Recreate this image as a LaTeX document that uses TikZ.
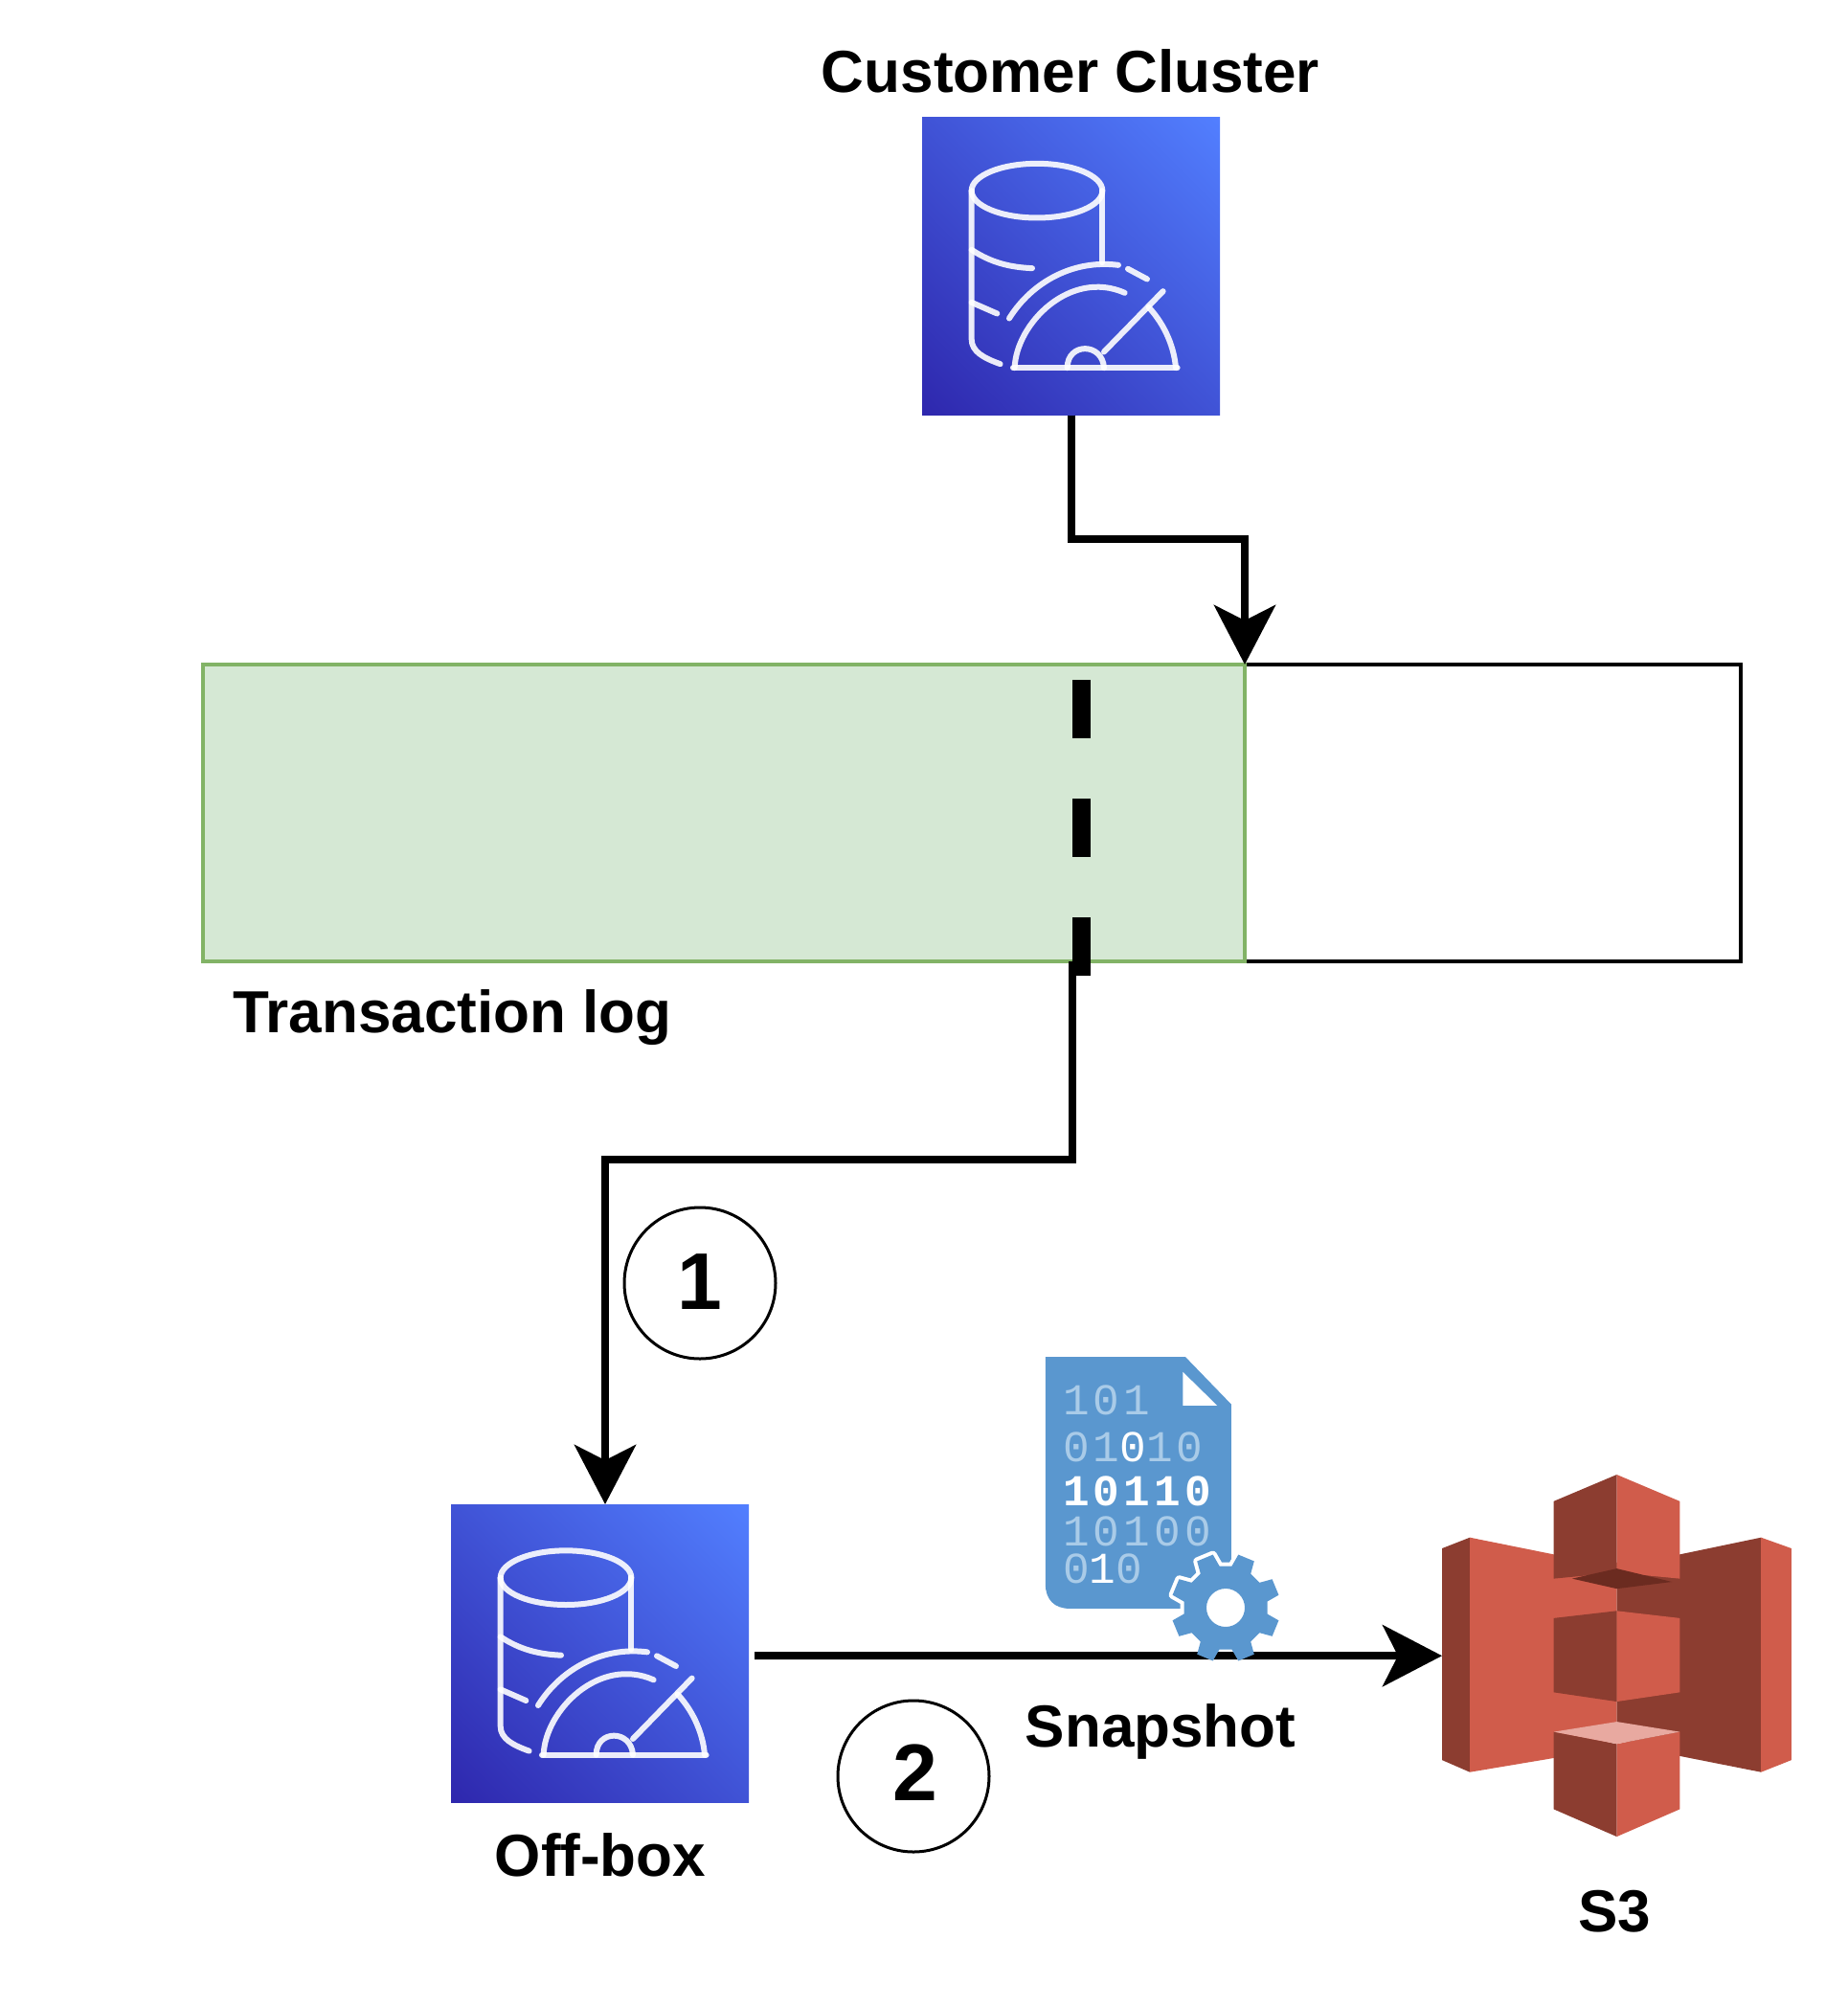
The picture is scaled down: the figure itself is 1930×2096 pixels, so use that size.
\documentclass[tikz,border=0pt]{standalone}
\usepackage{fontspec}
\setmainfont{Liberation Sans}
\newfontfamily\digitfont[LetterSpace=9]{Liberation Mono}
\usetikzlibrary{arrows.meta,shadings}
\definecolor{awsdark}{HTML}{2E27AD}
\definecolor{awslight}{HTML}{527FFF}
\definecolor{awsmid}{HTML}{4053D6}
\definecolor{s3light}{HTML}{D05C4B}
\definecolor{s3dark}{HTML}{8C3D30}
\definecolor{s3under}{HTML}{6B2B20}
\definecolor{s3top}{HTML}{E8A9A0}
\definecolor{docblue}{HTML}{5A97CF}
\definecolor{digitlight}{HTML}{A9CBE8}
\definecolor{logfill}{HTML}{D5E8D4}
\definecolor{logline}{HTML}{82B366}
\tikzset{
  x=1pt,y=-1pt,
  awssquare/.style={minimum size=311pt,inner sep=0pt,outer sep=0pt,shade,
    lower left=awsdark,upper right=awslight,upper left=awsmid,lower right=awsmid},
  iconline/.style={draw=white,opacity=.9,line width=6pt,line cap=round,line join=round},
  lbl/.style={font=\fontsize{62}{72}\selectfont\bfseries,text=black,inner sep=0pt},
  num/.style={circle,draw=black,line width=3pt,minimum size=158pt,inner sep=0pt,
    font=\fontsize{84}{96}\selectfont\bfseries},
  link/.style={draw=black,line width=8pt,line join=miter,
    -{Stealth[length=62pt,width=64pt,inset=16pt]}},
  digits/.style={anchor=west,inner sep=0pt,text=digitlight,
    font=\fontsize{46}{50}\selectfont\digitfont},
  band/.style={minimum height=310pt,inner sep=0pt,outer sep=0pt,line width=3.5pt},
}
\newcommand{\dbicon}[1]{%
  \begin{scope}[shift={(#1.north west)},x=.3333pt,y=-.3333pt]
  \begin{scope}[shift={(-185,-305)}]
    \draw[iconline] (545,535) ellipse [x radius=205,y radius=85];
    \draw[iconline] (340,535) -- (340,1000) .. controls (340,1040) and (380,1060) .. (430,1078);
    \draw[iconline] (750,535) -- (750,760);
    \draw[iconline] (340,720) .. controls (400,760) and (460,775) .. (530,778);
    \draw[iconline] (340,885) -- (420,920);
    \draw[iconline] (458,935) .. controls (530,820) and (660,750) .. (800,768);
    \draw[iconline] (830,780) -- (890,812);
    \draw[iconline] (475,1090) .. controls (480,950) and (650,780) .. (820,855);
    \draw[iconline] (755,1040) -- (940,850);
    \draw[iconline] (895,900) .. controls (950,960) and (975,1030) .. (980,1090);
    \draw[iconline] (470,1090) -- (985,1090);
    \draw[iconline] (640,1090) .. controls (640,1010) and (750,1010) .. (755,1090);
  \end{scope}
  \end{scope}}
\newcommand{\gearpath}{%
  (22.5-14:44) \foreach \a in {22.5,67.5,...,337.5} {
    -- (\a-14:44) -- (\a-9:57) -- (\a+9:57) -- (\a+14:44) } -- cycle}
\begin{document}
\begin{tikzpicture}
\useasboundingbox (0,0) rectangle (1930,2096);
\fill[white] (0,0) rectangle (1930,2096);

% transaction log
\node[band,draw=black,fill=white,minimum width=518pt,anchor=north west] (tfree) at (1300,694) {};
\node[band,draw=logline,fill=logfill,minimum width=1088pt,anchor=north west] (tused) at (212,694) {};
\coordinate (dashtop) at (1129,710);
\coordinate (dashbot) at (1129,1019);
\draw[black,line width=19pt,dash pattern=on 61pt off 63pt] (dashtop) -- (dashbot);
\node[lbl,anchor=west] (tlabel) at (243,1063) {Transaction log};

% customer cluster
\node[awssquare,anchor=north west] (cluster) at (963,122.5) {};
\dbicon{cluster}
\node[lbl] (clabel) at (1118,74) {Customer Cluster};

% off-box
\node[awssquare,anchor=north west] (offbox) at (471,1571) {};
\dbicon{offbox}
\node[lbl] (olabel) at (627,1937) {Off-box};
\coordinate (tap) at (1120,1004);
\coordinate (offtop) at (632,1571);
\coordinate (offout) at (788,1729);

% connectors
\draw[link] (cluster.south) -- ++(0,129) -| (tused.north east);
\draw[link] (tap) -- ++(0,207) -| (offtop);

% numbered circles
\node[num] (one) at (731,1340) {\raisebox{2pt}{1}};
\node[num] (two) at (954,1855) {\raisebox{7pt}{\hspace*{3pt}2}};

% snapshot document
\begin{scope}[shift={(1505,1541)},x=.548pt,y=-.421pt]
\begin{scope}[shift={(-832,-382)}]
  \fill[docblue] (78,88) -- (345,88) -- (432,205) -- (432,712) -- (125,712)
    .. controls (95,712) and (78,690) .. (78,650) -- cycle;
  \fill[white] (340,125) -- (405,208) -- (340,208) -- cycle;
\end{scope}
\end{scope}
\node[digits] (row1) at (1110,1462) {101};
\node[digits] (row2) at (1110,1511) {01\textcolor{white}{0}10};
\node[digits] (row3) at (1110,1557) {\textcolor{white}{\bfseries 10110}};
\node[digits] (row4) at (1110,1599) {10100};
\node[digits] (row5) at (1110,1638) {0\textcolor{white}{1}0};
\begin{scope}[shift={(1280,1679)}]
  \draw[white,fill=white,line width=8pt,line join=round] \gearpath;
\end{scope}

% s3
\node[inner sep=0pt,minimum width=365pt,minimum height=378pt,anchor=north west] (s3box) at (1506,1540) {};
\draw[link] (offout) -- (s3box.west);
\begin{scope}[shift={(1280,1679)}]
  \fill[docblue,even odd rule] \gearpath (0,0) circle [radius=20];
\end{scope}
\begin{scope}[shift={(s3box.north west)},x=.548pt,y=-.421pt]
\begin{scope}[shift={(-832,-382)}]
  \fill[s3dark] (832,565) -- (885,538) -- (885,1120) -- (832,1090) -- cycle;
  \fill[s3light] (885,538) -- (1045,580) -- (1165,600) -- (1165,1040) -- (1045,1085) -- (885,1120) -- cycle;
  \fill[s3dark] (1440,538) -- (1285,580) -- (1165,600) -- (1165,1040) -- (1285,1080) -- (1440,1120) -- cycle;
  \fill[s3light] (1440,538) -- (1498,565) -- (1498,1090) -- (1440,1120) -- cycle;
  % top cube
  \fill[s3dark] (1045,448) -- (1165,382) -- (1165,625) -- (1045,640) -- cycle;
  \fill[s3light] (1165,382) -- (1285,448) -- (1285,640) -- (1165,625) -- cycle;
  \fill[s3under] (1080,640) -- (1165,615) -- (1270,648) -- (1165,665) -- cycle;
  % middle cube
  \fill[s3dark] (1045,738) -- (1165,720) -- (1165,945) -- (1045,922) -- cycle;
  \fill[s3light] (1165,720) -- (1285,738) -- (1285,922) -- (1165,945) -- cycle;
  % bottom cube
  \fill[s3dark] (1045,1020) -- (1165,1050) -- (1165,1280) -- (1045,1212) -- cycle;
  \fill[s3light] (1165,1050) -- (1285,1020) -- (1285,1212) -- (1165,1280) -- cycle;
  \fill[s3top] (1045,1020) -- (1165,995) -- (1285,1020) -- (1165,1050) -- cycle;
\end{scope}
\end{scope}
\node[lbl] (snaplabel) at (1212,1808) {Snapshot};
\node[lbl] (s3label) at (1686,1996) {S3};
\end{tikzpicture}
\end{document}
